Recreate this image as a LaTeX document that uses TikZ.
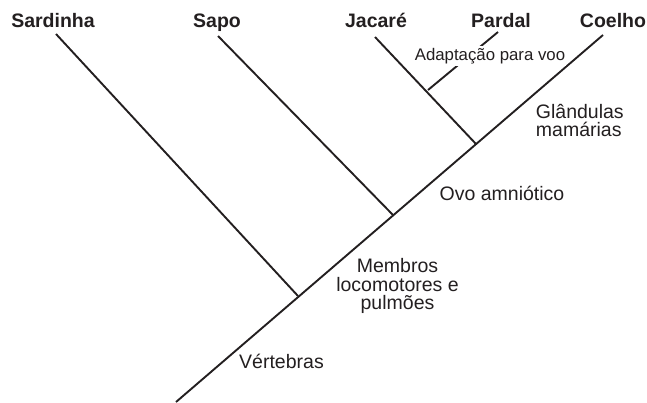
\documentclass[tikz,border=0pt]{standalone}
\usepackage{fontspec}
\setmainfont{Liberation Sans}
\definecolor{ink}{RGB}{35,31,32}

\begin{document}
\begin{tikzpicture}[x=1pt, y=-1pt, line width=1.9pt, draw=ink, text=ink,
	taxon/.style = {font=\fontsize{19.5}{18.5}\selectfont\bfseries, anchor=base, inner sep=0pt},
	trait/.style = {font=\fontsize{19.5}{18.5}\selectfont, inner sep=0pt},
	note/.style = {font=\fontsize{16.8}{18}\selectfont, anchor=base, fill=white, inner xsep=0.5pt, inner ysep=2pt}]
\useasboundingbox (0,0) rectangle (647,402);
% taxa
\node[taxon] (sar) at (53,27) {Sardinha};
\node[taxon] (sap) at (217,27) {Sapo};
\node[taxon] (jac) at (376,27) {Jacaré};
\node[taxon] (par) at (501,27) {Pardal};
\node[taxon] (coe) at (613,27) {Coelho};
% branch ends and splits
\coordinate (root) at (176,402);
\coordinate (t1) at (56,34);
\coordinate (t2) at (218,36);
\coordinate (t3) at (375,37);
\coordinate (t4) at (498,32);
\coordinate (t5) at (603,35);
\coordinate (s1) at (298,296);
\coordinate (s2) at (393,215);
\coordinate (s3) at (476,144);
\coordinate (s4) at (428,90);
\draw (root) -- (t5);
\draw (s1) -- (t1);
\draw (s2) -- (t2);
\draw (s3) -- (t3);
\draw (s4) -- (t4);
% traits
\node[trait, anchor=base] (vert) at (281.5,368) {Vértebras};
\node[trait, align=center] (memb) at (397.5,286) {Membros\\locomotores e\\pulmões};
\node[trait, anchor=base] (ovo) at (502,200) {Ovo amniótico};
\node[trait, align=left, anchor=west] (glan) at (535,120.5) {Glândulas\\mamárias};
\node[note] (voo) at (490,60) {Adaptação para voo};
\end{tikzpicture}
\end{document}
